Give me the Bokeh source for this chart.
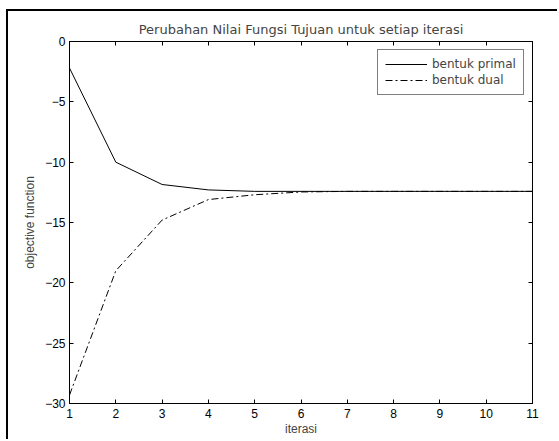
from bokeh.plotting import figure
from bokeh.models import LinearAxis, FixedTicker, Legend, LegendItem, Range1d
from bokeh.embed import file_html
from bokeh.resources import INLINE

# Data
iterasi = [1, 2, 3, 4, 5, 6, 7, 8, 9, 10, 11]
primal = [-2.2, -10.0, -11.85, -12.3, -12.42, -12.42, -12.42, -12.42, -12.42, -12.42, -12.42]
dual = [-29.3, -19.0, -14.8, -13.1, -12.7, -12.47, -12.42, -12.42, -12.42, -12.42, -12.42]
x_ticks = [1, 2, 3, 4, 5, 6, 7, 8, 9, 10, 11]
y_ticks = [-30, -25, -20, -15, -10, -5, 0]

FONT = "Liberation Sans"
TFONT = "DejaVu Sans"

p = figure(width=551, height=430, output_backend="svg", toolbar_location=None,
           x_range=Range1d(1, 11), y_range=Range1d(-30, 0),
           title="Perubahan Nilai Fungsi Tujuan untuk setiap iterasi",
           min_border_left=61, min_border_right=27, min_border_top=30, min_border_bottom=38)
p.styles = {"box-shadow": "-2px -2px 0px 0px black",
            "margin-left": "8px", "margin-top": "11px"}

p.title.align = "center"
p.title.text_font = TFONT
p.title.text_font_size = "13px"
p.title.text_font_style = "normal"
p.title.offset = 0

p.xgrid.visible = False
p.ygrid.visible = False
p.outline_line_color = "black"
p.outline_line_width = 1

for ax in [p.xaxis[0], p.yaxis[0]]:
    ax.major_tick_in = 4
    ax.major_tick_out = 0
    ax.minor_tick_line_color = None
    ax.axis_line_color = "black"
    ax.major_tick_line_color = "black"
    ax.major_label_text_font = FONT
    ax.major_label_text_font_size = "12px"
    ax.major_label_text_color = "black"
    ax.axis_label_text_font = FONT
    ax.axis_label_text_font_size = "12px"
    ax.axis_label_text_font_style = "normal"

p.xaxis[0].ticker = FixedTicker(ticks=x_ticks)
p.yaxis[0].ticker = FixedTicker(ticks=y_ticks)
p.xaxis[0].axis_label = "iterasi"
p.yaxis[0].axis_label = "objective function"
p.xaxis[0].major_label_standoff = 5
p.xaxis[0].axis_label_standoff = 1
p.yaxis[0].major_label_standoff = 4
p.yaxis[0].axis_label_standoff = 5

top_ax = LinearAxis(ticker=FixedTicker(ticks=x_ticks), major_tick_in=4, major_tick_out=0,
                    minor_tick_line_color=None, major_label_text_color=None,
                    major_label_standoff=0)
right_ax = LinearAxis(ticker=FixedTicker(ticks=y_ticks), major_tick_in=4, major_tick_out=0,
                      minor_tick_line_color=None, major_label_text_color=None,
                      major_label_standoff=0)
p.add_layout(top_ax, "above")
p.add_layout(right_ax, "right")

r1 = p.line(iterasi, primal, line_color="black", line_width=1)
r2 = p.line(iterasi, dual, line_color="black", line_width=1, line_dash="7 3 2 3")

legend = Legend(items=[LegendItem(label="bentuk primal", renderers=[r1]),
                       LegendItem(label="bentuk dual", renderers=[r2])],
                location=(308, 308))
legend.label_text_font = TFONT
legend.label_text_font_size = "12px"
legend.glyph_width = 42
legend.glyph_height = 14
legend.label_height = 14
legend.label_standoff = 5
legend.padding = 7
legend.spacing = 2
legend.border_line_color = "black"
legend.border_line_width = 1
legend.margin = 0
p.add_layout(legend, "center")

open("out.html", "w").write(file_html(p, INLINE))
